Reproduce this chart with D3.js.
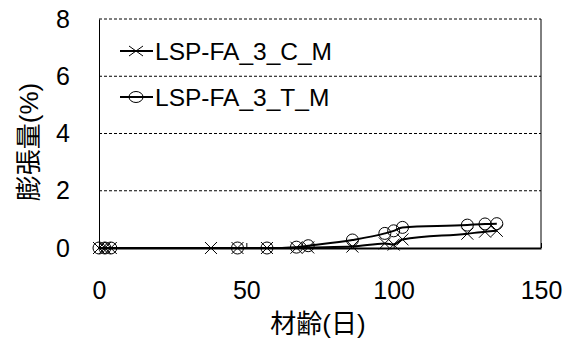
<!DOCTYPE html>
<html>
<head>
<meta charset="utf-8">
<script src="https://cdn.jsdelivr.net/npm/d3@7"></script>
<style>
  body { margin: 0; background: #fff; }
  text { font-family: "Liberation Sans", Arial, sans-serif; fill: #000; }
  .cjk { font-family: "Liberation Sans", "Noto Sans CJK JP", sans-serif; }
</style>
</head>
<body>
<div id="chart"></div>
<script>
// 材齢 (days) and 膨張量 (%)
const daysC = [0, 2, 4, 38, 47, 57, 67, 71, 86, 97, 100, 103, 125, 131, 135];
const valuesC = [0, 0, 0, 0, 0, 0, 0.01, 0.02, 0.05, 0.16, 0.12, 0.3, 0.5, 0.57, 0.6];
const daysT = [0, 2, 4, 47, 57, 67, 71, 86, 97, 100, 103, 125, 131, 135];
const valuesT = [0, 0, 0, 0, 0, 0.03, 0.08, 0.28, 0.51, 0.6, 0.72, 0.8, 0.84, 0.85];
const xTicks = [0, 50, 100, 150];
const yTicks = [0, 2, 4, 6, 8];
const seriesNames = ["LSP-FA_3_C_M", "LSP-FA_3_T_M"];

const W = 571, H = 342;
const margin = { top: 19, right: 30, bottom: 94, left: 99 };
const width = W - margin.left - margin.right;
const height = H - margin.top - margin.bottom;

const svg = d3.select('#chart').append('svg')
    .attr('width', W)
    .attr('height', H);

const g = svg.append('g')
    .attr('transform', `translate(${margin.left},${margin.top})`);

const x = d3.scaleLinear().domain([0, 150]).range([0, width]);
const y = d3.scaleLinear().domain([0, 8]).range([height, 0]);

// dashed gridlines
g.selectAll('.grid')
    .data(yTicks.filter(d => d > 0))
    .enter().append('line')
    .attr('x1', 0).attr('x2', width)
    .attr('y1', d => y(d)).attr('y2', d => y(d))
    .attr('stroke', '#000')
    .attr('stroke-width', 1)
    .attr('stroke-dasharray', '3,2');

// right border
g.append('line')
    .attr('x1', width).attr('x2', width)
    .attr('y1', 0).attr('y2', height)
    .attr('stroke', '#000');

// axes
const xAxis = g.append('g')
    .attr('transform', `translate(0,${height})`)
    .call(d3.axisBottom(x).tickValues(xTicks).tickSizeInner(-5).tickSizeOuter(0).tickPadding(51));
xAxis.select('.domain').attr('stroke-width', 2);
xAxis.selectAll('text').attr('font-size', 25).attr('dy', '0');

const yAxis = g.append('g')
    .call(d3.axisLeft(y).tickValues(yTicks).tickSize(0).tickPadding(29));
yAxis.selectAll('text').attr('font-size', 25);

// series
const C = daysC.map((d, i) => ({ day: d, v: valuesC[i] }));
const T = daysT.map((d, i) => ({ day: d, v: valuesT[i] }));

const line = d3.line()
    .x(d => x(d.day))
    .y(d => y(d.v))
    .curve(d3.curveMonotoneX);

[C, T].forEach(s => {
    g.append('path')
        .datum(s)
        .attr('fill', 'none')
        .attr('stroke', '#000')
        .attr('stroke-width', 2)
        .attr('d', line);
});

const crossPath = (rx, ry) => `M${-rx},${-ry}L${rx},${ry}M${-rx},${ry}L${rx},${-ry}`;

g.selectAll('.mc')
    .data(C)
    .enter().append('path')
    .attr('transform', d => `translate(${x(d.day)},${y(d.v)})`)
    .attr('d', crossPath(6, 6))
    .attr('stroke', '#000')
    .attr('stroke-width', 1)
    .attr('fill', 'none');

g.selectAll('.mt')
    .data(T)
    .enter().append('circle')
    .attr('cx', d => x(d.day))
    .attr('cy', d => y(d.v))
    .attr('r', 6)
    .attr('stroke', '#000')
    .attr('stroke-width', 1)
    .attr('fill', 'none');

// legend
const legend = svg.append('g').attr('transform', 'translate(120,51)');
seriesNames.forEach((name, i) => {
    const row = legend.append('g').attr('transform', `translate(0,${i * 46})`);
    row.append('line')
        .attr('x1', 0).attr('x2', 33)
        .attr('y1', 0).attr('y2', 0)
        .attr('stroke', '#000').attr('stroke-width', 2);
    if (i === 0) {
        row.append('path')
            .attr('transform', 'translate(16,0)')
            .attr('d', crossPath(7, 5))
            .attr('stroke', '#000').attr('fill', 'none');
    } else {
        row.append('ellipse')
            .attr('cx', 16).attr('cy', 0).attr('rx', 7).attr('ry', 5.5)
            .attr('stroke', '#000').attr('fill', 'none');
    }
    row.append('text')
        .attr('x', 35).attr('y', 8.5)
        .attr('font-size', 24.5)
        .text(name);
});

// axis titles
svg.append('text')
    .attr('class', 'cjk')
    .attr('x', 318).attr('y', 333)
    .attr('text-anchor', 'middle')
    .attr('font-size', 26)
    .text('材齢(日)');

svg.append('text')
    .attr('class', 'cjk')
    .attr('transform', 'translate(38,142) rotate(-90)')
    .attr('text-anchor', 'middle')
    .attr('font-size', 26)
    .text('膨張量(%)');
</script>
</body>
</html>
